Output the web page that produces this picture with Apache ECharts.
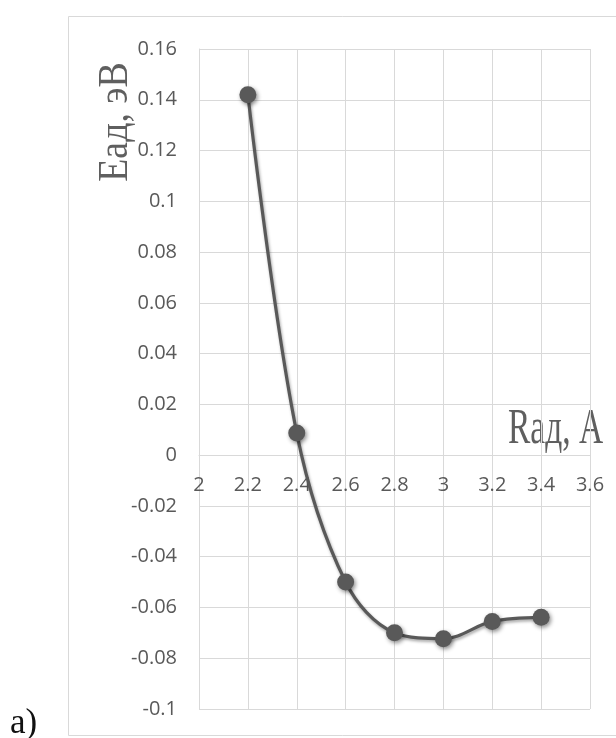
<!DOCTYPE html>
<html><head><meta charset="utf-8">
<script src="https://cdn.jsdelivr.net/npm/echarts@6/dist/echarts.min.js"></script>
<style>html,body{margin:0;padding:0;background:#fff}#c{width:616px;height:738px}</style>
</head><body><div id="c"></div>
<script>
// Data
const xValues = [2.2, 2.4, 2.6, 2.8, 3.0, 3.2, 3.4];
const eValues = [0.142, 0.0087, -0.050, -0.070, -0.0723, -0.0655, -0.0639];
const xMin = 2, xMax = 3.6, xStep = 0.2;
const yMin = -0.1, yMax = 0.16, yStep = 0.02;
const yAxisName = 'Eад, эВ';
const xAxisName = 'Rад, A';
const panelLabel = 'a)';

const seriesData = xValues.map((x, i) => [x, eValues[i]]);
const gridColor = '#d9d9d9';
const labelColor = '#595959';
const lineColor = '#595959';

const chart = echarts.init(document.getElementById('c'), null, {renderer: 'canvas'});
chart.setOption({
  animation: false,
  backgroundColor: '#fff',
  grid: {left: 199, right: 26, top: 49, bottom: 29, containLabel: false, outerBoundsMode: 'none'},
  xAxis: {
    type: 'value', min: xMin, max: xMax, interval: xStep,
    axisLine: {show: true, onZero: true, lineStyle: {color: gridColor, width: 1}},
    axisTick: {show: false},
    axisLabel: {color: labelColor, fontFamily: 'Open Sans', fontSize: 20, margin: 20},
    splitLine: {show: true, lineStyle: {color: gridColor, width: 1}}
  },
  yAxis: {
    type: 'value', min: yMin, max: yMax, interval: yStep,
    axisLine: {show: true, onZero: false, lineStyle: {color: gridColor, width: 1}},
    axisTick: {show: false},
    axisLabel: {color: labelColor, fontFamily: 'Open Sans', fontSize: 20, margin: 22},
    splitLine: {show: true, lineStyle: {color: gridColor, width: 1}}
  },
  series: [{
    type: 'line',
    data: seriesData,
    smooth: 0.35,
    symbol: 'circle',
    symbolSize: 17,
    itemStyle: {color: lineColor, shadowColor: 'rgba(0,0,0,0.45)', shadowBlur: 4, shadowOffsetX: 1.5, shadowOffsetY: 2},
    lineStyle: {color: lineColor, width: 3.2, shadowColor: 'rgba(0,0,0,0.35)', shadowBlur: 3, shadowOffsetX: 1, shadowOffsetY: 2},
    z: 5
  }],
  graphic: [
    {type: 'rect', left: 66, top: 14, z: -10, silent: true,
     shape: {x: 0, y: 0, width: 600, height: 719},
     style: {fill: 'none', stroke: gridColor, lineWidth: 1}},
    {type: 'text', x: 116, y: 122, rotation: Math.PI / 2, scaleX: 0.9, silent: true,
     style: {text: yAxisName, fontFamily: 'Liberation Serif', fontSize: 42, fill: '#5f5f5f', align: 'center', verticalAlign: 'middle'}},
    {type: 'text', x: 508, y: 430, scaleX: 0.67, silent: true,
     style: {text: xAxisName, fontFamily: 'Liberation Serif', fontSize: 50, fill: '#5f5f5f', align: 'left', verticalAlign: 'middle'}},
    {type: 'text', x: 10, y: 724, silent: true,
     style: {text: panelLabel, fontFamily: 'Liberation Serif', fontSize: 35, fill: '#111', align: 'left', verticalAlign: 'middle'}}
  ]
});
// Place the x axis on y = 0 using the library's own y scale
const yZeroPx = chart.convertToPixel({yAxisIndex: 0}, 0);
const yBottomPx = chart.convertToPixel({yAxisIndex: 0}, yMin);
chart.setOption({xAxis: {offset: yZeroPx - yBottomPx}});
</script></body></html>
